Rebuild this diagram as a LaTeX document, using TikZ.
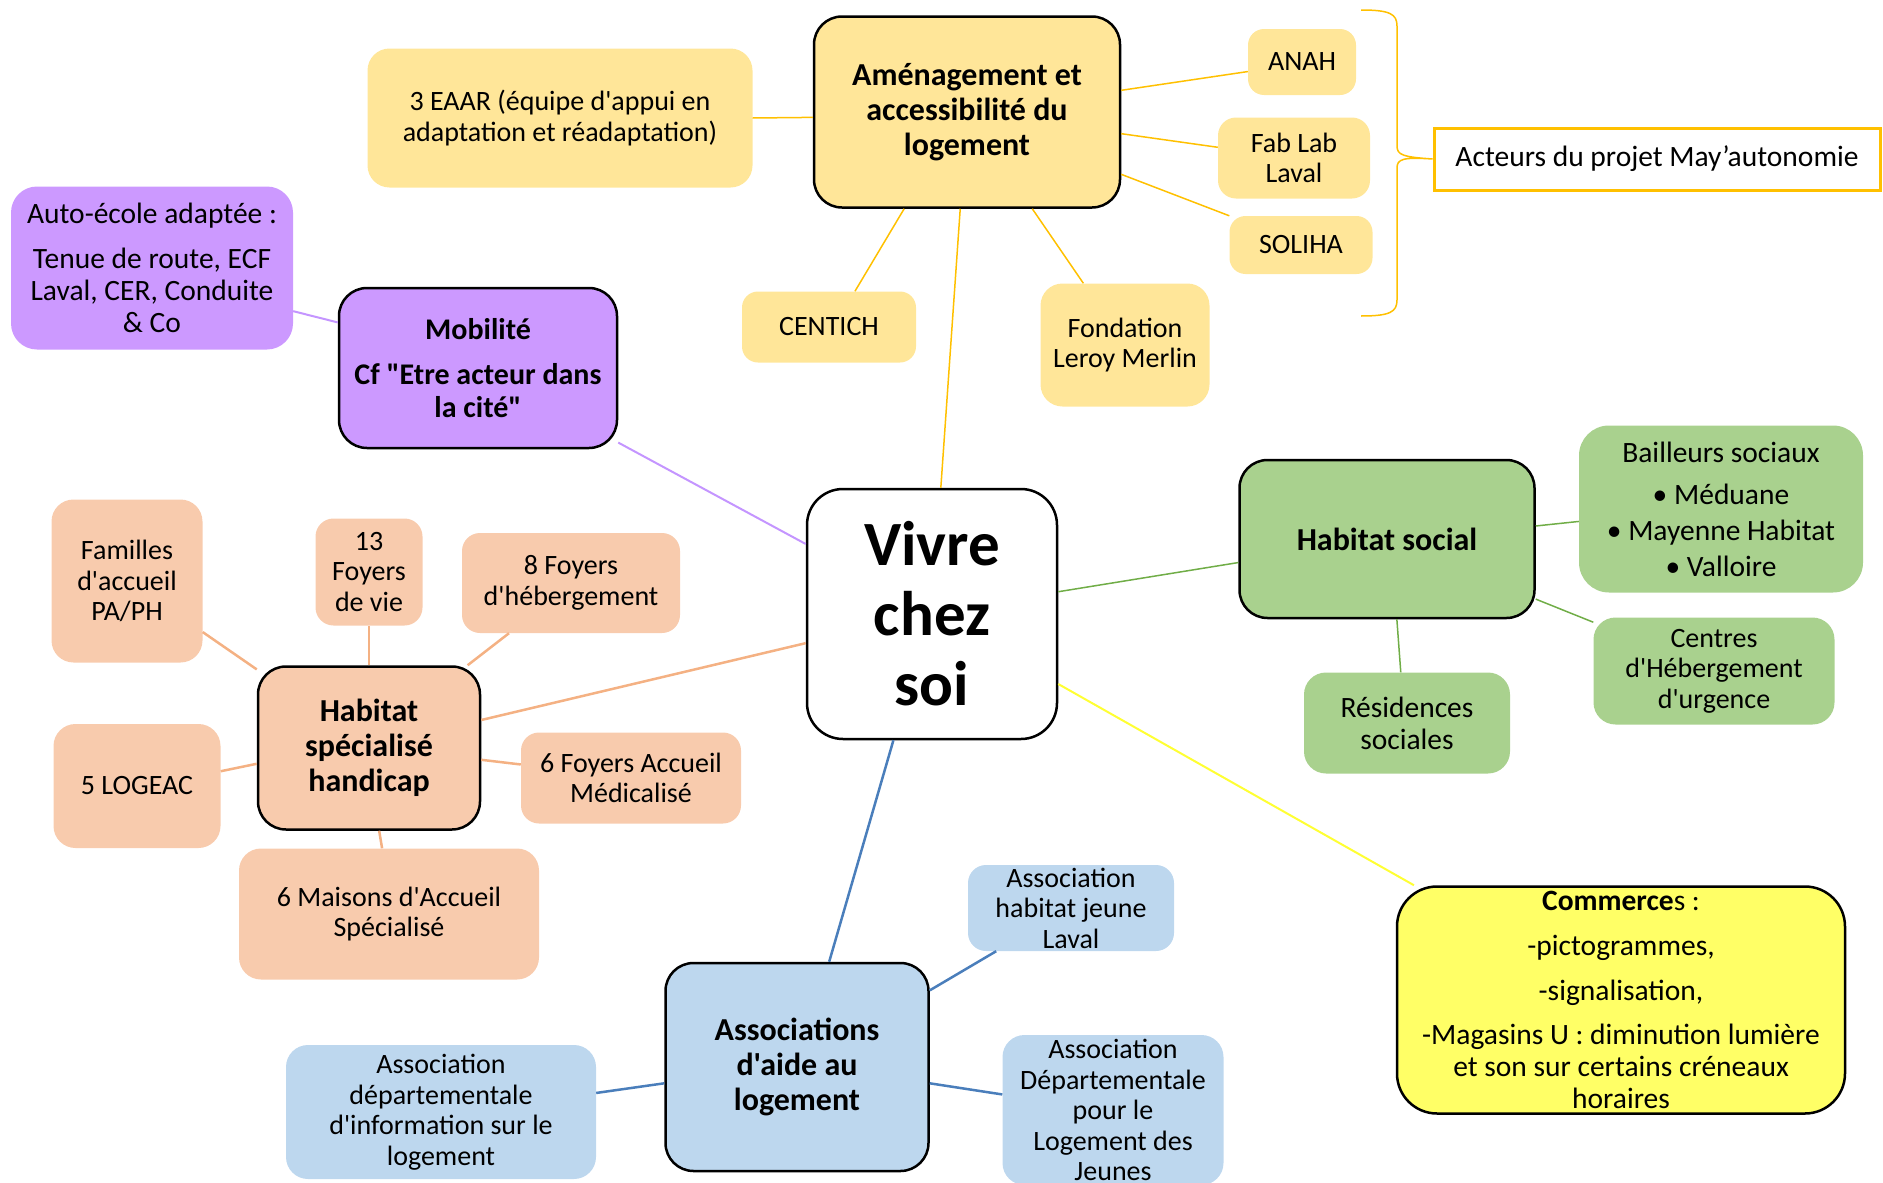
\documentclass[tikz,border=0pt]{standalone}
\usepackage{fontspec}
\setmainfont{Carlito}[Ligatures=TeXOff]
\usepackage{tikz}

\definecolor{goldfill}{HTML}{FFE699}
\definecolor{goldline}{HTML}{FFC000}
\definecolor{purpfill}{HTML}{CC99FF}
\definecolor{purpline}{HTML}{C495FF}
\definecolor{peachfill}{HTML}{F8CBAD}
\definecolor{peachline}{HTML}{F4B183}
\definecolor{greenfill}{HTML}{A9D18E}
\definecolor{greenline}{HTML}{70AD47}
\definecolor{yellowfill}{HTML}{FFFF66}
\definecolor{yellowline}{HTML}{FFFF33}
\definecolor{bluefill}{HTML}{BDD7EE}
\definecolor{blueline}{HTML}{4A7EBB}

\tikzset{
  leaf/.style={align=center, inner sep=0pt, rounded corners=22pt, font=\fontsize{28}{30.5}\selectfont},
  bigleaf/.style={leaf, font=\fontsize{29.5}{32}\selectfont},
  topic/.style={leaf, draw=black, line width=2.5pt, rounded corners=28pt, font=\bfseries\fontsize{32}{35}\selectfont},
  link/.style={line width=2pt}
}

\begin{document}
\begin{tikzpicture}[x=1pt,y=-1pt]
                \path[use as bounding box] (0,0) rectangle (1883,1183);

                % Centre
                \node[topic, fill=white, rounded corners=36pt, minimum width=250pt, minimum height=250pt,
                      font=\bfseries\fontsize{63}{70}\selectfont] (vivre) at (932,614) {Vivre\\chez\\soi};

                % Amenagement
                \node[topic, fill=goldfill, minimum width=306pt, minimum height=191pt] (amen) at (967,112) {Aménagement et\\accessibilité du\\logement};
                \node[leaf, fill=goldfill, minimum width=385pt, minimum height=139pt] (eaar) at (560,118) {3 EAAR (équipe d'appui en\\adaptation et réadaptation)};
                \node[leaf, fill=goldfill, rounded corners=16pt, minimum width=108pt, minimum height=66pt] (anah) at (1302,62) {ANAH};
                \node[leaf, fill=goldfill, rounded corners=18pt, minimum width=152pt, minimum height=81pt] (fablab) at (1294,158) {Fab Lab\\Laval};
                \node[leaf, fill=goldfill, rounded corners=16pt, minimum width=143pt, minimum height=58pt] (soliha) at (1301,245) {SOLIHA};
                \node[leaf, fill=goldfill, rounded corners=16pt, minimum width=174pt, minimum height=71pt] (centich) at (829,327) {CENTICH};
                \node[leaf, fill=goldfill, minimum width=169pt, minimum height=123pt] (fond) at (1125,345) {Fondation\\Leroy Merlin};
                \node[bigleaf, draw=goldline, line width=3pt, rounded corners=0pt, fill=white, minimum width=446pt, minimum height=62pt] (act) at (1657,159) {Acteurs du projet May’autonomie};

                % Brace
                \coordinate (bracetop) at (1361,10);
                \coordinate (bracebot) at (1361,316);
                \draw[goldline, line width=1.5pt] (bracetop) .. controls (1390,10) and (1397,14) .. (1397,26) -- (1397,146)
                      .. controls (1397,155) and (1403,157) .. (act.west)
                      .. controls (1403,157) and (1397,159) .. (1397,168) -- (1397,300)
                      .. controls (1397,312) and (1390,316) .. (bracebot);

                % Mobilite
                \node[topic, fill=purpfill, minimum width=278pt, minimum height=160pt, font=\bfseries\fontsize{30}{33}\selectfont] (mob) at (478,368) {Mobilité\\[12pt]Cf "Etre acteur dans\\la cité"};
                \node[bigleaf, fill=purpfill, rounded corners=26pt, minimum width=282pt, minimum height=163pt] (auto) at (152,268) {Auto-école adaptée :\\[13pt]Tenue de route, ECF\\Laval, CER, Conduite\\\& Co};

                % Habitat specialise
                \node[topic, fill=peachfill, minimum width=222pt, minimum height=163pt] (hsp) at (369,748) {Habitat\\spécialisé\\handicap};
                \node[leaf, fill=peachfill, minimum width=151pt, minimum height=163pt] (fam) at (127,581) {Familles\\d'accueil\\PA/PH};
                \node[leaf, fill=peachfill, rounded corners=18pt, minimum width=107pt, minimum height=107pt] (foyv) at (369,572) {13\\Foyers\\de vie};
                \node[leaf, fill=peachfill, rounded corners=18pt, minimum width=218pt, minimum height=100pt] (foyh) at (571,583) {8 Foyers\\d'hébergement};
                \node[leaf, fill=peachfill, minimum width=167pt, minimum height=124pt] (logeac) at (137,786) {5 LOGEAC};
                \node[leaf, fill=peachfill, rounded corners=18pt, minimum width=220pt, minimum height=91pt] (fam6) at (631,778) {6 Foyers Accueil\\Médicalisé};
                \node[leaf, fill=peachfill, minimum width=300pt, minimum height=131pt] (mas) at (389,914) {6 Maisons d'Accueil\\Spécialisé};

                % Habitat social
                \node[topic, fill=greenfill, minimum width=295pt, minimum height=158pt] (hsoc) at (1387,539) {Habitat social};
                \node[bigleaf, fill=greenfill, rounded corners=30pt, minimum width=284pt, minimum height=167pt] (bail) at (1721,509) {Bailleurs sociaux\\[10pt]• Méduane\\[4pt]• Mayenne Habitat\\[4pt]• Valloire};
                \node[leaf, fill=greenfill, minimum width=241pt, minimum height=107pt] (centres) at (1714,671) {Centres\\d'Hébergement\\d'urgence};
                \node[bigleaf, fill=greenfill, minimum width=206pt, minimum height=101pt] (resid) at (1407,723) {Résidences\\sociales};

                % Commerces
                \node[topic, fill=yellowfill, rounded corners=40pt, minimum width=448pt, minimum height=227pt, font=\fontsize{29.5}{32}\selectfont] (com) at (1621,1000)
                      {\textbf{Commerce}s :\\[13pt]-pictogrammes,\\[13pt]-signalisation,\\[12pt]-Magasins U : diminution lumière\\et son sur certains créneaux\\horaires};

                % Associations
                \node[topic, fill=bluefill, minimum width=263pt, minimum height=208pt] (assoc) at (797,1067) {Associations\\d'aide au\\logement};
                \node[leaf, fill=bluefill, rounded corners=18pt, minimum width=206pt, minimum height=86pt] (jeune) at (1071,908) {Association\\habitat jeune\\Laval};
                \node[leaf, fill=bluefill, minimum width=221pt, minimum height=150pt] (adlj) at (1113,1110) {Association\\Départementale\\pour le\\Logement des\\Jeunes};
                \node[leaf, fill=bluefill, minimum width=310pt, minimum height=134pt] (adil) at (441,1112) {Association\\départementale\\d'information sur le\\logement};

                % Links
                \draw[goldline, line width=1.5pt] (vivre.86) -- (amen.266);
                \draw[goldline, line width=1.5pt] (amen.182) -- (eaar.east);
                \draw[goldline, line width=1.5pt] (amen.8.5) -- (anah.190);
                \draw[goldline, line width=1.5pt] (amen.352) -- (fablab.172);
                \draw[goldline, line width=1.5pt] (amen.338) -- (soliha.north west);
                \draw[goldline, line width=1.5pt] (amen.237) -- (centich.54);
                \draw[goldline, line width=1.5pt] (amen.304) -- (fond.124);

                \draw[link, purpline] (vivre.151) -- (mob.332);
                \draw[link, purpline] (mob.162) -- (auto.343);

                \draw[link, peachline, line width=2.5pt] (vivre.193) -- (hsp.14);
                \draw[link, peachline, line width=2.5pt] (hsp.145) -- (fam.326);
                \draw[link, peachline, line width=2.5pt] (hsp.north) -- (foyv.south);
                \draw[link, peachline, line width=2.5pt] (hsp.40) -- (foyh.219);
                \draw[link, peachline, line width=2.5pt] (hsp.188) -- (logeac.10);
                \draw[link, peachline, line width=2.5pt] (hsp.354) -- (fam6.173);
                \draw[link, peachline, line width=2.5pt] (hsp.277) -- (mas.96);

                \draw[greenline, line width=1.5pt] (vivre.10) -- (hsoc.189);
                \draw[greenline, line width=1.5pt] (hsoc.5) -- (bail.185);
                \draw[greenline, line width=1.5pt] (hsoc.338) -- (centres.158);
                \draw[greenline, line width=1.5pt] (hsoc.277) -- (resid.97);

                \draw[link, yellowline] (vivre.331) -- (com.151);

                \draw[link, blueline, line width=2.5pt] (vivre.253) -- (assoc.73);
                \draw[link, blueline, line width=2.5pt] (assoc.30) -- (jeune.210);
                \draw[link, blueline, line width=2.5pt] (assoc.187) -- (adil.7);
                \draw[link, blueline, line width=2.5pt] (assoc.353) -- (adlj.172);

            \end{tikzpicture}
\end{document}
